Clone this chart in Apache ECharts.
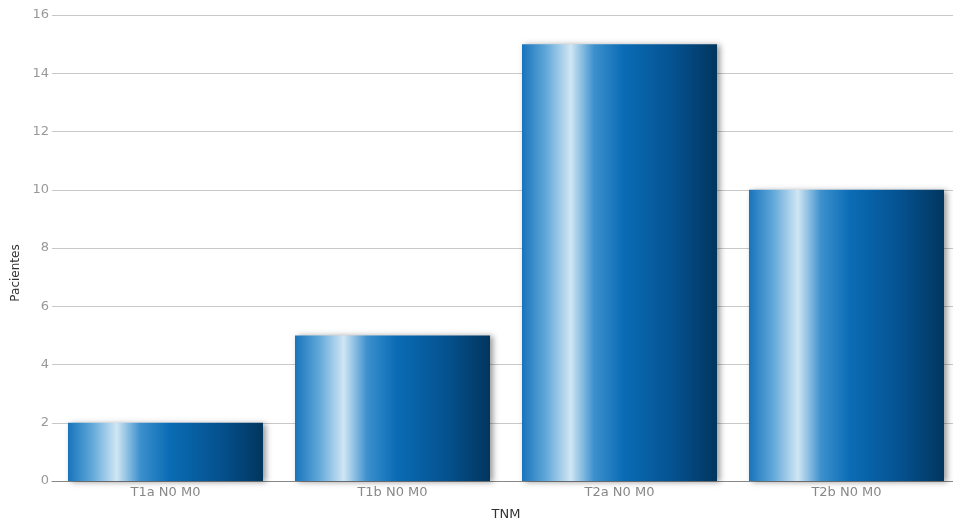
<!DOCTYPE html>
<html>
<head>
<meta charset="utf-8">
<script src="https://cdn.jsdelivr.net/npm/echarts@6/dist/echarts.min.js"></script>
<style>
  html, body { margin: 0; padding: 0; background: #fff; }
  #chart { width: 953px; height: 527px; }
</style>
</head>
<body>
<div id="chart"></div>
<script>
// Patients per TNM stage
const categories = ['T1a N0 M0', 'T1b N0 M0', 'T2a N0 M0', 'T2b N0 M0'];
const patients = [2, 5, 15, 10];
const yTicks = { min: 0, max: 16, interval: 2 };

// Horizontal metallic-blue fill for the bars
const barFill = new echarts.graphic.LinearGradient(0, 0, 1, 0, [
  { offset: 0.00, color: '#1874bb' },
  { offset: 0.12, color: '#5ea6d8' },
  { offset: 0.25, color: '#d0e6f4' },
  { offset: 0.37, color: '#3c90cd' },
  { offset: 0.52, color: '#0a6cb5' },
  { offset: 0.78, color: '#05518f' },
  { offset: 1.00, color: '#01365e' }
]);

const chart = echarts.init(document.getElementById('chart'), null, { renderer: 'canvas' });
chart.setOption({
  animation: false,
  textStyle: { fontFamily: 'DejaVu Sans' },
  // plot area runs slightly past the right edge of the canvas
  grid: { left: 52, width: 908, top: 15, bottom: 46, outerBoundsMode: 'none', containLabel: false },
  xAxis: {
    type: 'category',
    data: categories,
    name: 'TNM',
    nameLocation: 'middle',
    nameGap: 27,
    nameTextStyle: { color: '#333', fontSize: 13 },
    axisLine: { lineStyle: { color: '#888', width: 1 } },
    axisTick: { show: false },
    axisLabel: { color: '#888', fontSize: 13, margin: 5 }
  },
  yAxis: {
    type: 'value',
    min: yTicks.min,
    max: yTicks.max,
    interval: yTicks.interval,
    name: 'Pacientes',
    nameLocation: 'middle',
    nameGap: 28,
    nameTextStyle: { color: '#333', fontSize: 12, padding: [0, 50, 0, 0] },
    axisLine: { show: false },
    axisTick: { show: false },
    axisLabel: { color: '#999', fontSize: 13, margin: 3 },
    splitLine: { lineStyle: { color: '#c8c8c8', width: 1 } }
  },
  series: [{
    type: 'bar',
    data: patients,
    barWidth: 195,
    itemStyle: {
      color: barFill,
      shadowColor: 'rgba(0,0,0,0.4)',
      shadowBlur: 6,
      shadowOffsetX: 3,
      shadowOffsetY: 1
    }
  }]
});
</script>
</body>
</html>
